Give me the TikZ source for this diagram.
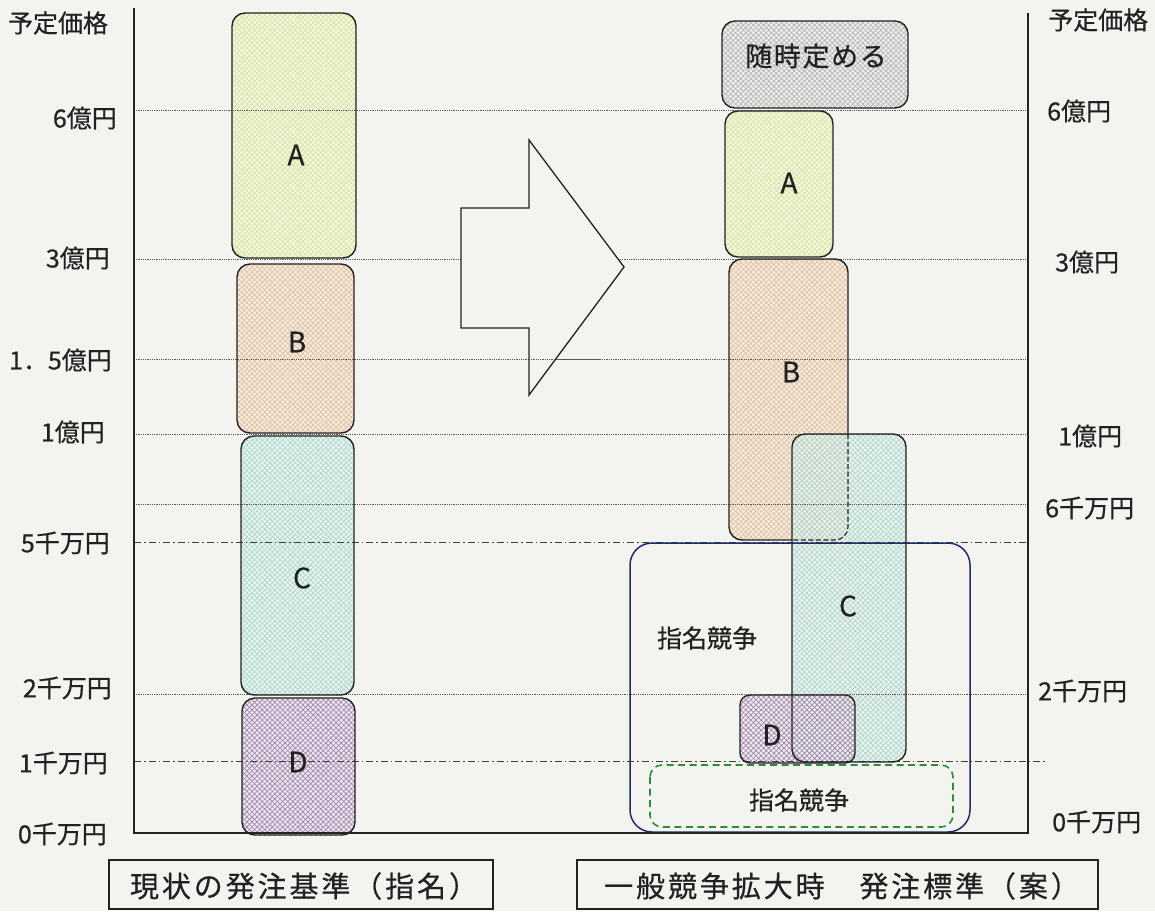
\documentclass[tikz,border=0pt]{standalone}
\usepackage{fontspec}
\setmainfont{Noto Sans CJK JP}[FakeBold=0.5]
\newfontfamily\capfont{Noto Sans CJK JP}[LetterSpace=10,FakeBold=0.5]
\newfontfamily\zuijifont{Noto Sans CJK JP}[LetterSpace=6,FakeBold=0.5]
\usetikzlibrary{patterns.meta}
\definecolor{bg}{HTML}{F3F3EF}
\definecolor{txt}{HTML}{222222}
\definecolor{lnA}{HTML}{D5E49C}
\definecolor{bsA}{HTML}{F4F7E3}
\definecolor{lnB}{HTML}{E0BE9C}
\definecolor{bsB}{HTML}{F5ECE2}
\definecolor{lnC}{HTML}{ABD6CA}
\definecolor{bsC}{HTML}{E9F4F0}
\definecolor{lnD}{HTML}{A083AB}
\definecolor{bsD}{HTML}{EDE6EF}
\definecolor{lnG}{HTML}{B4B4B4}
\definecolor{bsG}{HTML}{ECECEA}
\definecolor{navy}{HTML}{1F2F66}
\definecolor{grn}{HTML}{2E8B3A}
\tikzset{
  hatch/.style 2 args={preaction={fill=#2},
    pattern={Lines[angle=45,distance=3.6pt,line width=0.65pt]}, pattern color=#1,
    postaction={pattern={Lines[angle=-45,distance=3.6pt,line width=0.65pt]}, pattern color=#1}},
  hatchT/.style 2 args={preaction={fill=#2, fill opacity=0.5},
    pattern={Lines[angle=45,distance=3.6pt,line width=0.65pt]}, pattern color=#1,
    postaction={pattern={Lines[angle=-45,distance=3.6pt,line width=0.65pt]}, pattern color=#1}},
  boxline/.style={draw=txt, line width=1.4pt},
  dotline/.style={draw=black!65, line width=0.8pt, dash pattern=on 1pt off 0.8pt},
  dashdotline/.style={draw=black!75, line width=0.9pt, dash pattern=on 7pt off 3pt on 1.5pt off 3pt},
  axis/.style={draw=txt, line width=1.4pt},
  lab/.style={font=\fontsize{25}{30}\selectfont, inner sep=0pt, text=txt},
  letter/.style={font=\fontsize{28}{32}\selectfont, inner sep=0pt, text=txt},
  caption/.style={font=\capfont\fontsize{29}{33}\selectfont, inner sep=0pt, text=txt},
}
\begin{document}
\begin{tikzpicture}[x=1pt,y=-1pt]
\path[use as bounding box, fill=bg] (0,0) rectangle (1155,911);

% ---------- box fills ----------
% left column
\path[hatch={lnA}{bsA}, rounded corners=13pt] (232,13) rectangle (356,258);
\path[hatch={lnB}{bsB}, rounded corners=13pt] (237,264) rectangle (354,433);
\path[hatch={lnC}{bsC}, rounded corners=13pt] (241,436) rectangle (354,695);
\path[hatch={lnD}{bsD}, rounded corners=13pt] (242,698) rectangle (355,835);
% right column
\path[hatch={lnG}{bsG}, rounded corners=13pt] (722,21) rectangle (908,108);
\path[hatch={lnA}{bsA}, rounded corners=13pt] (725,111) rectangle (833,257);
\path[hatch={lnB}{bsB}, rounded corners=13pt] (729,259) rectangle (848,540);
\path[hatchT={lnC}{bsC}, rounded corners=13pt] (792,434) rectangle (906,762);
\path[hatchT={lnD}{bsD}, rounded corners=10pt] (740,695) rectangle (855,763);

% ---------- grid lines ----------
\foreach \yy in {110,259,359,434,504,694}
  \draw[dotline] (134,\yy) -- (1028,\yy);
\draw[dashdotline] (134,542) -- (1028,542);
\draw[dashdotline] (134,761) -- (1045,761);

% ---------- borders ----------
\draw[boxline, rounded corners=13pt] (232,13) rectangle (356,258);
\draw[boxline, rounded corners=13pt] (237,264) rectangle (354,433);
\draw[boxline, rounded corners=13pt] (241,436) rectangle (354,695);
\draw[boxline, rounded corners=13pt] (242,698) rectangle (355,835);
\draw[boxline, rounded corners=13pt] (722,21) rectangle (908,108);
\draw[boxline, rounded corners=13pt] (725,111) rectangle (833,257);
\draw[boxline, rounded corners=13pt] (792,540) -- (729,540) -- (729,259) -- (848,259) -- (848,434);
\draw[boxline, line width=1.1pt, dash pattern=on 5pt off 2.5pt, rounded corners=13pt] (848,434) -- (848,540) -- (792,540);
\draw[boxline, rounded corners=13pt] (792,434) rectangle (906,762);
\draw[boxline, rounded corners=10pt] (740,695) rectangle (855,763);
\draw[draw=navy, line width=1.5pt, rounded corners=22pt] (630,543) rectangle (970,832);
\draw[draw=grn, line width=1.6pt, dash pattern=on 7pt off 4.5pt, rounded corners=12pt] (650,765) rectangle (953,827);

% ---------- big arrow ----------
\draw[fill=bg, draw=txt, line width=1.3pt] (461,208) -- (529,208) -- (529,140) -- (624,267)
  -- (529,395) -- (529,328) -- (461,328) -- cycle;
\draw[dotline] (529,359) -- (600,359);

% ---------- axes ----------
\draw[axis] (134,8) -- (134,833) -- (1028,833) -- (1028,13);

% ---------- left axis labels ----------
\node[lab, anchor=center] (lhead) at (58,23) {予定価格};
\node[lab, anchor=east] (l6oku) at (117,118) {6億円};
\node[lab, anchor=east] (l3oku) at (110,258) {3億円};
\node[lab, anchor=east] (l15oku) at (112,360) {1．5億円};
\node[lab, anchor=east] (l1oku) at (105,432) {1億円};
\node[lab, anchor=east] (l5sen) at (110,543) {5千万円};
\node[lab, anchor=east] (l2sen) at (112,688) {2千万円};
\node[lab, anchor=east] (l1sen) at (108,763) {1千万円};
\node[lab, anchor=east] (l0sen) at (107,834) {0千万円};

% ---------- right axis labels ----------
\node[lab, anchor=west] (rhead) at (1048,20) {予定価格};
\node[lab, anchor=west] (r6oku) at (1047,111) {6億円};
\node[lab, anchor=west] (r3oku) at (1055,262) {3億円};
\node[lab, anchor=west] (r1oku) at (1058,436) {1億円};
\node[lab, anchor=west] (r6sen) at (1045,508) {6千万円};
\node[lab, anchor=west] (r2sen) at (1038,691) {2千万円};
\node[lab, anchor=west] (r0sen) at (1052,822) {0千万円};

% ---------- box labels ----------
\node[letter] (lA) at (296,155) {A};
\node[letter] (lB) at (297,342) {B};
\node[letter] (lC) at (302,578) {C};
\node[letter] (lD) at (298,762) {D};
\node[letter] (rA) at (789,183) {A};
\node[letter] (rB) at (791,372) {B};
\node[letter] (rC) at (848,606) {C};
\node[letter] (rD) at (772,735) {D};
\node[lab, font=\zuijifont\fontsize{27}{31}\selectfont] (zuiji) at (816,56) {随時定める};
\node[lab] (shimei1) at (707,638) {指名競争};
\node[lab] (shimei2) at (799,800) {指名競争};

% ---------- captions ----------
\draw[boxline, line width=1.2pt] (109,860) rectangle (493,909);
\node[caption] (capL) at (304,886) {現状の発注基準（指名）};
\draw[boxline, line width=1.2pt] (577,860) rectangle (1098,909);
\node[caption] (capR) at (842,886) {一般競争拡大時　発注標準（案）};
\end{tikzpicture}
\end{document}
